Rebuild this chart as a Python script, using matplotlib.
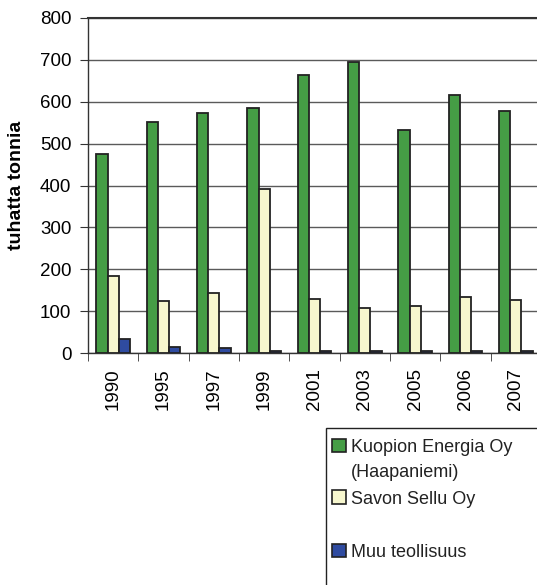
import numpy as np
import matplotlib
matplotlib.use("Agg")
import matplotlib.pyplot as plt
from matplotlib.patches import Rectangle

plt.rcParams['font.family'] = ['Liberation Sans', 'DejaVu Sans']

years = ["1990", "1995", "1997", "1999", "2001", "2003", "2005", "2006", "2007"]
kuopion = [476, 551, 573, 585, 664, 695, 533, 617, 577]
savon = [184, 125, 144, 392, 128, 107, 112, 134, 127]
muu = [33, 14, 12, 5, 5, 5, 5, 4, 5]

series = [kuopion, savon, muu]
names = ["Kuopion Energia Oy\n(Haapaniemi)", "Savon Sellu Oy", "Muu teollisuus"]
colors = ["#459D45", "#F7F7CE", "#2F4BA0"]

W, H = 537, 585
fig = plt.figure(figsize=(W / 100, H / 100), dpi=100)
ax = fig.add_axes([88 / W, 1 - 353 / H, 453 / W, 335 / H])

x = np.arange(len(years))
bw = 0.225
for k, (vals, col) in enumerate(zip(series, colors)):
    ax.bar(x + (k - 1) * bw, vals, bw, color=col, edgecolor="#222222",
           linewidth=1.3, zorder=3)

ax.set_xlim(-0.5, len(years) - 0.5)
ax.set_ylim(0, 800)
ax.set_yticks(range(0, 801, 100))
ax.tick_params(axis='y', labelsize=13.5, length=6, pad=6, color="#333333")
ax.set_xticks(x)
ax.set_xticklabels(years, rotation=90)
ax.tick_params(axis='x', which='major', length=0, labelsize=13.5, pad=11)
ax.set_xticks(np.arange(-0.5, len(years)), minor=True)
ax.tick_params(axis='x', which='minor', length=6, color="#333333")
ax.yaxis.grid(True, color="#5a5a5a", linewidth=1, zorder=0)
for s in ax.spines.values():
    s.set_color("#333333")
    s.set_linewidth(1)
ax.spines['top'].set_linewidth(1.5)
ax.set_ylabel("tuhatta tonnia", fontsize=14, fontweight='bold')
ax.yaxis.set_label_coords(-0.14, 0.5)


def fy(py):
    return 1 - py / H


# legend box drawn by hand (handle aligned with first line of label)
fig.patches.append(Rectangle((326 / W, fy(600)), 220 / W, (600 - 428) / H,
                             transform=fig.transFigure, facecolor="white",
                             edgecolor="#222222", linewidth=1))
baselines = [452, 503.5, 557]
for name, col, base in zip(names, colors, baselines):
    fig.patches.append(Rectangle((332 / W, fy(base)), 13.5 / W, 13.5 / H,
                                 transform=fig.transFigure, facecolor=col,
                                 edgecolor="#222222", linewidth=1.2))
    for j, line in enumerate(name.split("\n")):
        fig.text(351 / W, fy(base + 25 * j), line, fontsize=13, color="#222222",
                 va='baseline', ha='left')

fig.savefig("out.png", dpi=100)
